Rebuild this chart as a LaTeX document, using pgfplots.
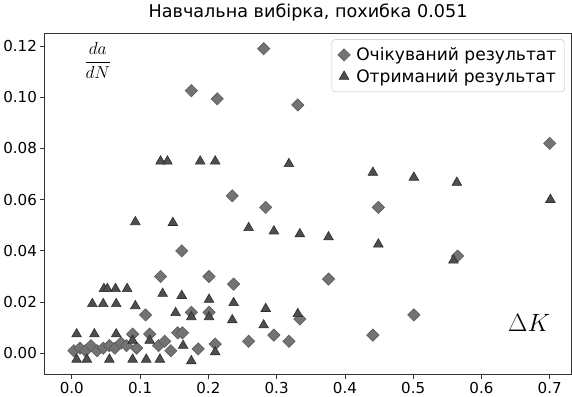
\documentclass[border=0pt]{standalone}
\usepackage{pgfplots}
\pgfplotsset{compat=1.18}
\usepackage{fontspec}
\setmainfont{DejaVu Sans}
\definecolor{dfill}{RGB}{115,115,115}
\definecolor{ddraw}{RGB}{90,90,90}
\definecolor{tfill}{RGB}{78,78,78}
\definecolor{tdraw}{RGB}{45,45,45}
\begin{document}
\begin{tikzpicture}
\begin{axis}[
  scale only axis,
  width=522bp, height=338bp,
  xmin=-0.040, xmax=0.732,
  ymin=-0.0083, ymax=0.125,
  xtick={0,0.1,0.2,0.3,0.4,0.5,0.6,0.7},
  ytick={0,0.02,0.04,0.06,0.08,0.10,0.12},
  xticklabel style={/pgf/number format/.cd,fixed,fixed zerofill,precision=1,assume math mode=true},
  yticklabel style={/pgf/number format/.cd,fixed,fixed zerofill,precision=2,assume math mode=true},
  scaled x ticks=false, scaled y ticks=false,
  tick label style={font=\fontsize{15}{17}\selectfont},
  tick align=outside, tickwidth=4bp,
  xtick pos=bottom, ytick pos=left,
  axis line style={black!80, line width=0.9pt},
  major tick style={black!80, line width=0.8pt},
  title={Навчальна вибірка, похибка 0.051},
  title style={font=\fontsize{17.5}{20}\selectfont, yshift=3bp},
  legend style={at={(0.987,0.982)}, anchor=north east, draw=black!25, rounded corners=3pt,
    font=\fontsize{17}{20}\selectfont, row sep=3bp, inner xsep=6bp, inner ysep=6bp,
    /tikz/every odd column/.append style={column sep=4bp}},
  legend cell align=left,
]
\addplot[only marks, mark=square*, mark size=4.3bp, mark options={rotate=45, fill=dfill, draw=ddraw, line width=0.6pt}] table {
x y
0.003 0.001
0.012 0.002
0.020 0.001
0.028 0.003
0.037 0.001
0.046 0.002
0.055 0.003
0.063 0.002
0.072 0.004
0.080 0.003
0.089 0.0075
0.095 0.002
0.108 0.015
0.114 0.0075
0.127 0.003
0.136 0.0047
0.145 0.001
0.155 0.008
0.162 0.008
0.185 0.0017
0.210 0.0036
0.130 0.030
0.201 0.030
0.237 0.027
0.161 0.040
0.175 0.016
0.201 0.016
0.376 0.029
0.334 0.0134
0.296 0.0071
0.259 0.0047
0.318 0.0047
0.441 0.0071
0.501 0.015
0.565 0.038
0.449 0.057
0.284 0.057
0.235 0.0615
0.700 0.082
0.175 0.1026
0.213 0.0994
0.331 0.097
0.281 0.119
};
\addlegendentry{Очікуваний результат}
\addplot[only marks, mark=triangle*, mark size=5.5bp, mark options={fill=tfill, draw=tdraw, line width=0.6pt}] table {
x y
0.007 -0.0024
0.022 -0.0024
0.055 -0.0024
0.089 -0.0024
0.109 -0.0024
0.129 -0.0024
0.175 -0.003
0.007 0.0075
0.033 0.0075
0.065 0.0075
0.089 0.005
0.114 0.005
0.030 0.0193
0.046 0.0193
0.065 0.0193
0.093 0.0185
0.047 0.0252
0.052 0.0252
0.064 0.0252
0.081 0.0252
0.163 0.003
0.210 0.0005
0.133 0.0233
0.161 0.0225
0.201 0.021
0.237 0.0197
0.152 0.0158
0.175 0.0142
0.201 0.0142
0.235 0.013
0.284 0.0174
0.331 0.0154
0.281 0.011
0.093 0.0513
0.148 0.051
0.130 0.075
0.140 0.075
0.188 0.075
0.210 0.075
0.318 0.074
0.259 0.049
0.296 0.0477
0.334 0.0466
0.376 0.0454
0.449 0.0426
0.559 0.0363
0.441 0.0706
0.501 0.0687
0.564 0.0667
0.701 0.060
};
\addlegendentry{Отриманий результат}
\node[font=\fontsize{19}{22}\selectfont] at (axis cs:0.038,0.1143) {$\displaystyle\frac{da}{dN}$};
\node[font=\fontsize{25}{27}\selectfont] at (axis cs:0.670,0.0118) {$\Delta K$};
\end{axis}
\end{tikzpicture}
\end{document}
